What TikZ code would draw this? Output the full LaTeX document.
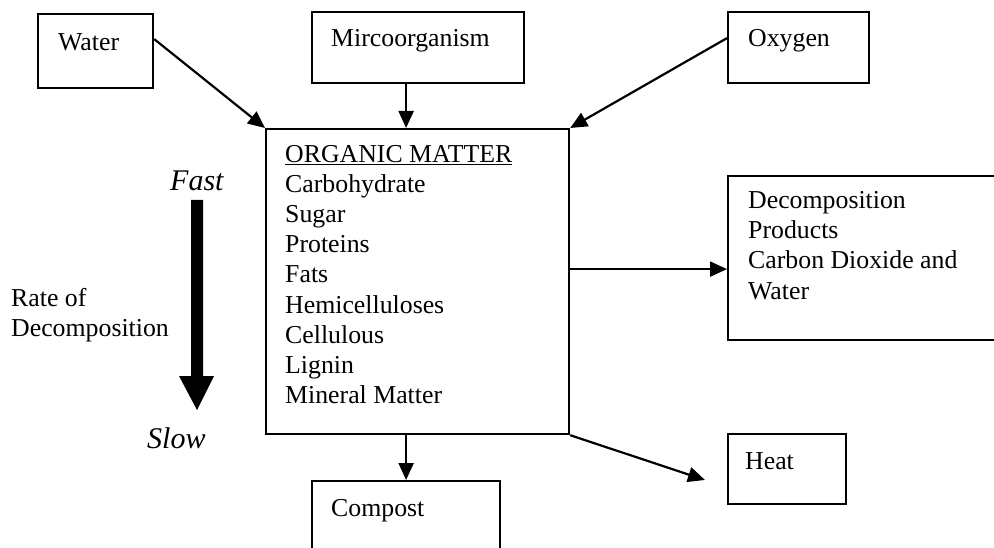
\documentclass[tikz,border=0pt]{standalone}
\usepackage{fontspec}
\setmainfont{Liberation Serif}
\usetikzlibrary{arrows.meta,calc}
\begin{document}
\begin{tikzpicture}[x=1pt,y=-1pt,
  box/.style={draw, line width=2.2pt, rectangle, inner sep=0pt, anchor=north west},
  txt/.style={anchor=base west, inner sep=0pt, font=\fontsize{25.8}{30}\selectfont},
  itxt/.style={anchor=base west, inner sep=0pt, font=\fontsize{30}{34}\selectfont\itshape},
  conn/.style={line width=2.2pt, -{Triangle[length=17pt,width=15pt]}}]
\useasboundingbox (0,0) rectangle (994,548);
\clip (0,0) rectangle (994,548);
% boxes
\node[box, minimum width=115, minimum height=74] (water) at (37,13) {};
\node[box, minimum width=212, minimum height=71] (micro) at (311,11) {};
\node[box, minimum width=141, minimum height=71] (oxygen) at (727,11) {};
\node[box, minimum width=303, minimum height=305] (organic) at (265,128) {};
\node[box, minimum width=290, minimum height=164] (decomp) at (727,175) {};
\node[box, minimum width=118, minimum height=70] (heat) at (727,433) {};
\node[box, minimum width=188, minimum height=90] (compost) at (311,480) {};
% texts
\node[txt] (twater) at (58,51) {Water};
\node[txt] (tmicro) at (331,47) {Mircoorganism};
\node[txt] (toxygen) at (748,47) {Oxygen};
\node[txt] (td1) at (748,209) {Decomposition};
\node[txt] (td2) at (748,239) {Products};
\node[txt] (td3) at (748,269) {Carbon Dioxide and};
\node[txt] (td4) at (748,300) {Water};
\node[txt] (theat) at (745,469) {Heat};
\node[txt] (tcompost) at (331,516) {Compost};
\node[txt] (to0) at (285,163) {\underline{ORGANIC MATTER}};
\foreach \t [count=\i] in {Carbohydrate,Sugar,Proteins,Fats,Hemicelluloses,Cellulous,Lignin,Mineral Matter}
  \node[txt] (to\i) at (285,{163+30*\i}) {\t};
\node[txt] (trate1) at (11,306) {Rate of};
\node[txt] (trate2) at (11,337) {Decomposition};
\node[itxt] (tfast) at (170,191) {Fast};
\node[itxt] (tslow) at (147,448) {Slow};
% big arrow
\fill (191,200) -- (203,200) -- (203,376) -- (214,376) -- (197,410) -- (179,376) -- (191,376) -- cycle;
% connectors
\coordinate (heattip) at (705,480);
\draw[conn] ([yshift=12]water.east) -- (organic.north west);
\draw[conn] (micro.south -| compost.north) -- (organic.north -| compost.north);
\draw[conn] ([yshift=9.5]oxygen.west) -- (organic.north east);
\draw[conn] ([yshift=12.5]organic.east) -- ([yshift=12.5]organic.east -| decomp.west);
\draw[conn] (organic.south east) -- (heattip);
\draw[conn] (organic.south -| compost.north) -- (compost.north);
\end{tikzpicture}
\end{document}
